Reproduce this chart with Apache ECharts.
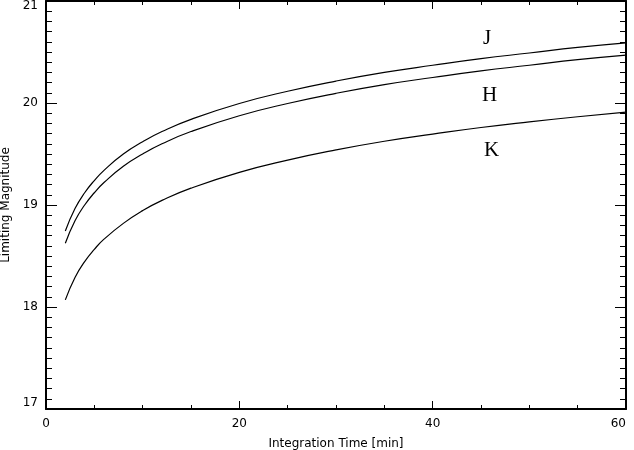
<!DOCTYPE html>
<html>
<head>
<meta charset="utf-8">
<script src="https://cdn.jsdelivr.net/npm/echarts@6/dist/echarts.min.js"></script>
<style>html,body{margin:0;padding:0;background:#fff}#c{width:634px;height:450px}</style>
</head>
<body>
<div id="c"></div>
<script>
var times = [2, 3, 4, 5, 6, 8, 10, 12, 15, 20, 25, 30, 35, 40, 45, 50, 55, 60];
var jMag = [18.745, 18.965, 19.12, 19.24, 19.34, 19.50, 19.62, 19.72, 19.84, 19.995, 20.115, 20.215, 20.30, 20.37, 20.435, 20.49, 20.545, 20.59];
var hMag = [18.625, 18.845, 19.00, 19.12, 19.22, 19.38, 19.50, 19.60, 19.72, 19.875, 19.995, 20.095, 20.18, 20.25, 20.315, 20.37, 20.425, 20.47];
var kMag = [18.07, 18.29, 18.445, 18.565, 18.665, 18.82, 18.945, 19.045, 19.165, 19.32, 19.44, 19.54, 19.625, 19.695, 19.76, 19.815, 19.865, 19.91];
var bandNames = ['J', 'H', 'K'];
var xTicks = [0, 20, 40, 60];
var yTicks = [17, 18, 19, 20, 21];

function pairs(xs, ys) { return xs.map(function (x, i) { return [x, ys[i]]; }); }

var chart = echarts.init(document.getElementById('c'), null, {renderer: 'canvas'});
var font = 'DejaVu Sans';
function mkX(pos, show) {
  return {
    type: 'value', position: pos, min: 0, max: 60, interval: 20,
    axisLine: {show: true, onZero: false, lineStyle: {color: '#000', width: 2}},
    axisTick: {show: true, inside: true, length: 8, lineStyle: {color: '#000', width: 1}},
    minorTick: {show: true, splitNumber: 4, length: 4, lineStyle: {color: '#000', width: 1}},
    splitLine: {show: false}, minorSplitLine: {show: false},
    axisLabel: {show: show, color: '#000', fontFamily: font, fontSize: 12, margin: 9, alignMaxLabel: 'right'},
    name: show ? 'Integration Time [min]' : '', nameLocation: 'middle', nameGap: 29,
    nameTextStyle: {color: '#000', fontFamily: font, fontSize: 12}
  };
}
function mkY(pos, show) {
  return {
    type: 'value', position: pos, min: 17, max: 21, interval: 1,
    axisLine: {show: true, onZero: false, lineStyle: {color: '#000', width: 2}},
    axisTick: {show: true, inside: true, length: 11, lineStyle: {color: '#000', width: 1}},
    minorTick: {show: true, splitNumber: 10, length: 6, lineStyle: {color: '#000', width: 1}},
    splitLine: {show: false}, minorSplitLine: {show: false},
    axisLabel: {
      show: show, color: '#000', fontFamily: font, fontSize: 12, margin: 8,
      formatter: function (v) {
        if (v === yTicks[yTicks.length - 1]) return '{t|' + v + '}';
        if (v === yTicks[0]) return '{b|' + v + '}';
        return String(v);
      },
      rich: {
        t: {padding: [10, 0, 0, 0], fontFamily: font, fontSize: 12, color: '#000'},
        b: {padding: [0, 0, 12, 0], fontFamily: font, fontSize: 12, color: '#000'}
      }
    },
    name: show ? 'Limiting Magnitude' : '', nameLocation: 'middle', nameGap: 33,
    nameTextStyle: {color: '#000', fontFamily: font, fontSize: 12}
  };
}
var lineStyle = {color: '#000', width: 1.2};
var series = [jMag, hMag, kMag].map(function (d, i) {
  return {
    type: 'line', name: bandNames[i], data: pairs(times, d), smooth: true,
    showSymbol: false, lineStyle: lineStyle, itemStyle: {color: '#000'}, animation: false
  };
});
var labelFont = {fontFamily: 'Liberation Serif', fontSize: 21, fill: '#000'};
chart.setOption({
  animation: false,
  backgroundColor: '#fff',
  grid: {left: 46, right: 8, top: 1, bottom: 41, containLabel: false, outerBoundsMode: 'none'},
  xAxis: [mkX('bottom', true), mkX('top', false)],
  yAxis: [mkY('left', true), mkY('right', false)],
  series: series,
  graphic: [
    {type: 'text', left: 483, top: 28, style: Object.assign({text: bandNames[0]}, labelFont)},
    {type: 'text', left: 482, top: 85, style: Object.assign({text: bandNames[1]}, labelFont)},
    {type: 'text', left: 484, top: 140, style: Object.assign({text: bandNames[2]}, labelFont)}
  ]
});
</script>
</body>
</html>
